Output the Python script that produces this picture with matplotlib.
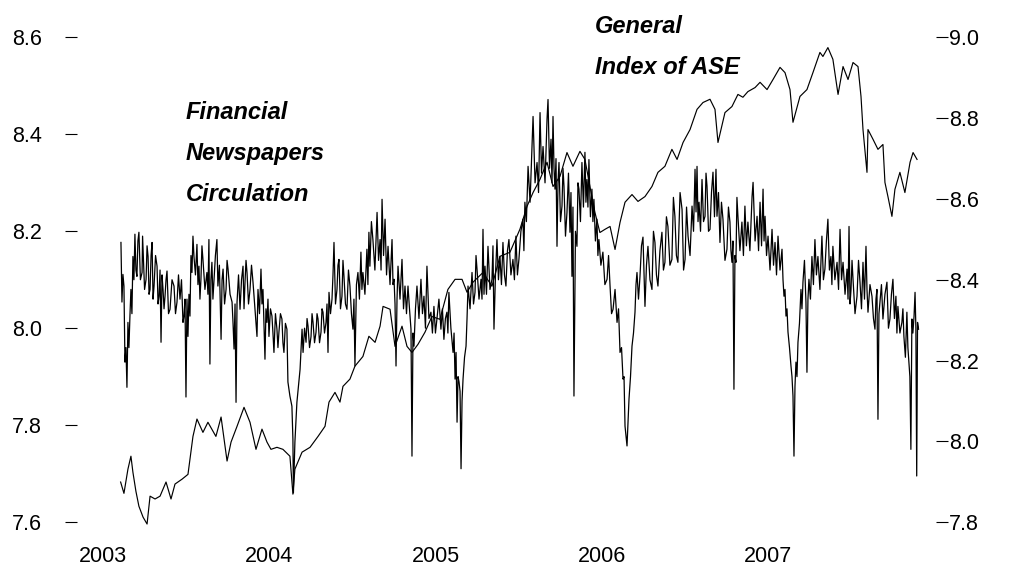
import matplotlib
matplotlib.use("Agg")
import matplotlib.pyplot as plt

# daily financial newspapers circulation (log)
circ_years = [
    2003.108, 2003.114, 2003.120, 2003.126, 2003.132, 2003.138, 2003.144, 2003.150, 2003.156, 2003.162,
    2003.168, 2003.174, 2003.180, 2003.186, 2003.192, 2003.198, 2003.204, 2003.210, 2003.216, 2003.225,
    2003.235, 2003.238, 2003.241, 2003.250, 2003.259, 2003.265, 2003.271, 2003.277, 2003.283, 2003.289,
    2003.295, 2003.301, 2003.307, 2003.316, 2003.325, 2003.331, 2003.337, 2003.343, 2003.349, 2003.355,
    2003.361, 2003.367, 2003.373, 2003.379, 2003.385, 2003.394, 2003.403, 2003.415, 2003.427, 2003.436,
    2003.445, 2003.454, 2003.463, 2003.472, 2003.481, 2003.487, 2003.493, 2003.499, 2003.505, 2003.511,
    2003.517, 2003.523, 2003.529, 2003.535, 2003.541, 2003.547, 2003.556, 2003.565, 2003.571, 2003.577,
    2003.583, 2003.589, 2003.595, 2003.601, 2003.613, 2003.625, 2003.631, 2003.637, 2003.643, 2003.649,
    2003.655, 2003.661, 2003.667, 2003.676, 2003.685, 2003.691, 2003.700, 2003.710, 2003.716, 2003.722,
    2003.731, 2003.740, 2003.746, 2003.752, 2003.764, 2003.776, 2003.782, 2003.788, 2003.794, 2003.800,
    2003.806, 2003.815, 2003.824, 2003.833, 2003.842, 2003.848, 2003.854, 2003.860, 2003.866, 2003.875,
    2003.884, 2003.893, 2003.902, 2003.914, 2003.926, 2003.932, 2003.941, 2003.950, 2003.956, 2003.962,
    2003.968, 2003.974, 2003.980, 2003.986, 2003.992, 2003.998, 2004.007, 2004.016, 2004.022, 2004.028,
    2004.037, 2004.046, 2004.052, 2004.058, 2004.067, 2004.076, 2004.082, 2004.088, 2004.097, 2004.106,
    2004.112, 2004.124, 2004.136, 2004.142, 2004.145, 2004.154, 2004.166, 2004.185, 2004.197, 2004.203,
    2004.212, 2004.221, 2004.227, 2004.233, 2004.242, 2004.251, 2004.257, 2004.263, 2004.272, 2004.281,
    2004.287, 2004.293, 2004.302, 2004.311, 2004.317, 2004.323, 2004.332, 2004.341, 2004.347, 2004.353,
    2004.359, 2004.368, 2004.377, 2004.383, 2004.389, 2004.398, 2004.407, 2004.413, 2004.419, 2004.428,
    2004.437, 2004.443, 2004.449, 2004.458, 2004.467, 2004.476, 2004.485, 2004.494, 2004.503, 2004.509,
    2004.515, 2004.524, 2004.533, 2004.542, 2004.551, 2004.557, 2004.563, 2004.575, 2004.587, 2004.593,
    2004.599, 2004.605, 2004.614, 2004.623, 2004.635, 2004.648, 2004.657, 2004.666, 2004.672, 2004.678,
    2004.687, 2004.696, 2004.705, 2004.714, 2004.726, 2004.738, 2004.744, 2004.750, 2004.756, 2004.762,
    2004.768, 2004.774, 2004.786, 2004.798, 2004.807, 2004.816, 2004.825, 2004.834, 2004.843, 2004.852,
    2004.858, 2004.864, 2004.870, 2004.879, 2004.888, 2004.900, 2004.912, 2004.921, 2004.930, 2004.939,
    2004.948, 2004.960, 2004.972, 2004.981, 2004.990, 2004.999, 2005.008, 2005.020, 2005.032, 2005.041,
    2005.050, 2005.059, 2005.068, 2005.074, 2005.080, 2005.092, 2005.105, 2005.111, 2005.117, 2005.123,
    2005.129, 2005.135, 2005.141, 2005.147, 2005.153, 2005.159, 2005.165, 2005.174, 2005.183, 2005.189,
    2005.195, 2005.207, 2005.219, 2005.228, 2005.237, 2005.243, 2005.249, 2005.261, 2005.273, 2005.279,
    2005.285, 2005.291, 2005.297, 2005.306, 2005.315, 2005.327, 2005.339, 2005.345, 2005.351, 2005.360,
    2005.369, 2005.378, 2005.387, 2005.396, 2005.405, 2005.414, 2005.423, 2005.432, 2005.441, 2005.453,
    2005.465, 2005.474, 2005.483, 2005.492, 2005.501, 2005.513, 2005.525, 2005.531, 2005.537, 2005.546,
    2005.556, 2005.568, 2005.580, 2005.586, 2005.598, 2005.610, 2005.619, 2005.628, 2005.637, 2005.646,
    2005.658, 2005.670, 2005.676, 2005.685, 2005.694, 2005.700, 2005.706, 2005.712, 2005.718, 2005.724,
    2005.730, 2005.736, 2005.742, 2005.751, 2005.760, 2005.766, 2005.772, 2005.781, 2005.790, 2005.799,
    2005.808, 2005.814, 2005.820, 2005.826, 2005.832, 2005.841, 2005.850, 2005.856, 2005.862, 2005.871,
    2005.880, 2005.889, 2005.898, 2005.904, 2005.910, 2005.916, 2005.922, 2005.931, 2005.940, 2005.946,
    2005.952, 2005.961, 2005.970, 2005.976, 2005.982, 2005.994, 2006.006, 2006.018, 2006.031, 2006.040,
    2006.049, 2006.058, 2006.067, 2006.079, 2006.091, 2006.100, 2006.109, 2006.118, 2006.127, 2006.133,
    2006.139, 2006.151, 2006.163, 2006.172, 2006.181, 2006.190, 2006.199, 2006.205, 2006.211, 2006.220,
    2006.229, 2006.238, 2006.247, 2006.253, 2006.259, 2006.268, 2006.277, 2006.289, 2006.301, 2006.310,
    2006.319, 2006.328, 2006.337, 2006.349, 2006.361, 2006.370, 2006.379, 2006.388, 2006.397, 2006.409,
    2006.421, 2006.430, 2006.439, 2006.448, 2006.457, 2006.470, 2006.482, 2006.491, 2006.500, 2006.509,
    2006.518, 2006.530, 2006.542, 2006.551, 2006.560, 2006.566, 2006.572, 2006.578, 2006.584, 2006.593,
    2006.602, 2006.611, 2006.620, 2006.626, 2006.632, 2006.641, 2006.650, 2006.659, 2006.668, 2006.677,
    2006.686, 2006.692, 2006.701, 2006.710, 2006.719, 2006.728, 2006.740, 2006.752, 2006.761, 2006.770,
    2006.776, 2006.782, 2006.788, 2006.794, 2006.800, 2006.806, 2006.812, 2006.818, 2006.830, 2006.842,
    2006.851, 2006.860, 2006.869, 2006.878, 2006.890, 2006.903, 2006.909, 2006.921, 2006.933, 2006.942,
    2006.951, 2006.960, 2006.969, 2006.975, 2006.981, 2006.990, 2006.999, 2007.011, 2007.023, 2007.032,
    2007.041, 2007.050, 2007.059, 2007.071, 2007.083, 2007.089, 2007.095, 2007.101, 2007.107, 2007.113,
    2007.119, 2007.128, 2007.137, 2007.143, 2007.149, 2007.155, 2007.161, 2007.167, 2007.173, 2007.179,
    2007.188, 2007.197, 2007.203, 2007.209, 2007.218, 2007.227, 2007.233, 2007.239, 2007.245, 2007.254,
    2007.263, 2007.272, 2007.281, 2007.290, 2007.299, 2007.311, 2007.323, 2007.332, 2007.341, 2007.350,
    2007.359, 2007.368, 2007.377, 2007.383, 2007.389, 2007.401, 2007.414, 2007.423, 2007.432, 2007.441,
    2007.450, 2007.462, 2007.474, 2007.480, 2007.486, 2007.492, 2007.498, 2007.504, 2007.510, 2007.522,
    2007.534, 2007.543, 2007.552, 2007.561, 2007.570, 2007.579, 2007.588, 2007.594, 2007.600, 2007.612,
    2007.624, 2007.633, 2007.642, 2007.648, 2007.654, 2007.660, 2007.666, 2007.672, 2007.681, 2007.690,
    2007.702, 2007.714, 2007.723, 2007.732, 2007.741, 2007.750, 2007.759, 2007.768, 2007.774, 2007.780,
    2007.792, 2007.804, 2007.810, 2007.816, 2007.825, 2007.834, 2007.840, 2007.846, 2007.852, 2007.858,
    2007.864, 2007.870, 2007.877, 2007.883, 2007.888, 2007.893, 2007.898, 2007.904,
]
circ_values = [
    8.177, 8.054, 8.111, 8.087, 7.930, 7.960, 7.878, 8.012, 7.960, 8.025,
    8.080, 8.030, 8.148, 8.100, 8.194, 8.120, 8.107, 8.180, 8.198, 8.100,
    8.115, 8.190, 8.163, 8.080, 8.101, 8.170, 8.148, 8.070, 8.080, 8.150,
    8.177, 8.060, 8.087, 8.150, 8.128, 8.050, 8.066, 8.120, 7.971, 8.110,
    8.080, 8.040, 8.066, 8.100, 8.118, 8.030, 8.039, 8.100, 8.087, 8.030,
    8.054, 8.110, 8.060, 8.100, 8.012, 8.025, 8.060, 7.858, 8.060, 7.983,
    8.070, 8.025, 8.150, 8.115, 8.190, 8.148, 8.110, 8.173, 8.090, 8.128,
    8.060, 8.101, 8.170, 8.142, 8.080, 8.115, 8.070, 8.183, 7.926, 8.100,
    8.136, 8.060, 8.095, 8.150, 8.183, 8.087, 8.130, 7.977, 8.100, 8.122,
    8.050, 8.080, 8.140, 8.122, 8.070, 8.054, 8.010, 7.957, 8.050, 7.847,
    8.054, 8.110, 8.039, 8.100, 8.128, 8.040, 8.095, 8.140, 8.115, 8.050,
    8.080, 8.130, 8.095, 8.040, 7.983, 8.080, 8.030, 8.122, 8.050, 8.080,
    8.010, 7.936, 8.040, 8.012, 8.060, 7.983, 8.040, 8.025, 7.990, 7.950,
    8.030, 7.998, 7.960, 7.992, 8.030, 8.019, 7.970, 7.950, 8.010, 7.998,
    7.889, 7.860, 7.839, 7.771, 7.660, 7.765, 7.847, 7.915, 7.998, 7.950,
    8.000, 7.971, 8.020, 8.004, 7.960, 7.983, 8.030, 8.012, 7.970, 7.992,
    8.030, 8.019, 7.970, 7.992, 8.040, 8.033, 7.990, 8.012, 8.050, 7.950,
    8.074, 8.030, 8.060, 8.110, 8.177, 8.050, 8.080, 8.130, 8.142, 8.040,
    8.066, 8.140, 8.107, 8.050, 8.039, 8.120, 8.087, 8.030, 7.998, 8.060,
    7.922, 8.090, 8.115, 8.060, 8.157, 8.080, 8.115, 8.070, 8.163, 8.090,
    8.198, 8.128, 8.220, 8.183, 8.120, 8.239, 8.140, 8.183, 8.120, 8.266,
    8.150, 8.225, 8.110, 8.169, 8.090, 8.183, 8.090, 8.101, 8.050, 7.922,
    8.060, 8.128, 8.060, 8.142, 8.040, 8.087, 8.030, 8.087, 8.040, 7.998,
    7.736, 7.990, 7.963, 8.040, 8.087, 8.020, 8.101, 8.030, 8.066, 8.000,
    8.128, 8.020, 8.033, 7.990, 8.045, 7.990, 8.019, 8.060, 7.998, 8.040,
    7.977, 8.020, 8.033, 7.990, 8.074, 8.000, 7.950, 7.990, 7.895, 7.950,
    7.806, 7.900, 7.889, 7.870, 7.710, 7.850, 7.895, 7.940, 7.963, 8.020,
    8.087, 8.040, 8.115, 8.050, 8.074, 8.150, 8.122, 8.060, 8.101, 8.060,
    8.204, 8.070, 8.128, 8.070, 8.169, 8.080, 8.101, 8.170, 7.998, 8.110,
    8.183, 8.100, 8.148, 8.090, 8.177, 8.110, 8.087, 8.160, 8.183, 8.110,
    8.142, 8.100, 8.190, 8.110, 8.142, 8.200, 8.225, 8.160, 8.260, 8.220,
    8.334, 8.260, 8.375, 8.437, 8.300, 8.342, 8.280, 8.445, 8.320, 8.375,
    8.300, 8.431, 8.472, 8.330, 8.390, 8.300, 8.437, 8.330, 8.287, 8.350,
    8.169, 8.300, 8.342, 8.220, 8.252, 8.330, 8.293, 8.190, 8.239, 8.320,
    8.198, 8.280, 8.107, 8.250, 7.860, 8.200, 8.169, 8.300, 8.287, 8.220,
    8.342, 8.250, 8.363, 8.260, 8.307, 8.250, 8.348, 8.230, 8.287, 8.220,
    8.266, 8.180, 8.225, 8.150, 8.183, 8.130, 8.157, 8.090, 8.101, 8.150,
    8.087, 8.030, 8.039, 8.080, 8.012, 8.040, 7.950, 7.960, 7.895, 7.900,
    7.798, 7.757, 7.854, 7.900, 7.963, 7.990, 8.033, 8.090, 8.115, 8.060,
    8.107, 8.170, 8.188, 8.120, 8.045, 8.130, 8.169, 8.100, 8.080, 8.200,
    8.177, 8.110, 8.087, 8.160, 8.198, 8.120, 8.136, 8.230, 8.210, 8.130,
    8.142, 8.270, 8.231, 8.150, 8.136, 8.280, 8.245, 8.120, 8.142, 8.250,
    8.190, 8.150, 8.252, 8.200, 8.328, 8.240, 8.334, 8.220, 8.260, 8.200,
    8.307, 8.220, 8.231, 8.320, 8.293, 8.200, 8.204, 8.280, 8.322, 8.230,
    8.328, 8.231, 8.280, 8.177, 8.260, 8.225, 8.140, 8.163, 8.250, 8.219,
    8.160, 8.136, 8.180, 7.874, 8.150, 8.136, 8.270, 8.231, 8.160, 8.219,
    8.150, 8.252, 8.170, 8.219, 8.160, 8.272, 8.301, 8.180, 8.231, 8.160,
    8.260, 8.170, 8.287, 8.180, 8.231, 8.150, 8.190, 8.120, 8.204, 8.130,
    8.177, 8.110, 8.190, 8.120, 8.163, 8.100, 8.066, 8.080, 8.025, 8.040,
    7.992, 7.960, 7.922, 7.900, 7.860, 7.736, 7.880, 7.930, 7.900, 7.971,
    8.010, 8.080, 8.040, 8.095, 8.140, 8.054, 7.909, 8.060, 8.101, 8.060,
    8.148, 8.090, 8.183, 8.110, 8.148, 8.080, 8.190, 8.100, 8.122, 8.180,
    8.225, 8.120, 8.148, 8.090, 8.169, 8.100, 8.136, 8.080, 8.204, 8.100,
    8.136, 8.070, 8.122, 8.060, 8.210, 8.050, 8.080, 8.140, 8.101, 8.030,
    8.066, 8.140, 8.095, 8.040, 8.136, 8.060, 8.169, 8.080, 8.033, 8.090,
    8.066, 8.020, 7.998, 8.060, 8.080, 7.812, 8.030, 8.054, 8.090, 8.019,
    8.070, 8.095, 8.000, 8.019, 8.070, 8.101, 8.020, 8.066, 7.990, 8.045,
    7.990, 8.012, 8.040, 7.983, 7.940, 8.033, 7.960, 7.930, 7.900, 7.750,
    8.019, 7.990, 8.025, 8.074, 8.000, 7.695, 8.012, 7.998,
]

# general index of ASE (log), right axis
ase_years = [
    2003.106, 2003.126, 2003.150, 2003.168, 2003.180, 2003.198, 2003.216, 2003.241, 2003.265, 2003.283,
    2003.313, 2003.343, 2003.379, 2003.409, 2003.433, 2003.475, 2003.511, 2003.541, 2003.565, 2003.601,
    2003.631, 2003.679, 2003.710, 2003.746, 2003.770, 2003.806, 2003.848, 2003.884, 2003.920, 2003.956,
    2003.986, 2004.010, 2004.046, 2004.082, 2004.124, 2004.142, 2004.154, 2004.197, 2004.245, 2004.293,
    2004.335, 2004.359, 2004.395, 2004.425, 2004.443, 2004.485, 2004.515, 2004.563, 2004.599, 2004.636,
    2004.666, 2004.684, 2004.726, 2004.756, 2004.798, 2004.828, 2004.858, 2004.894, 2004.936, 2004.978,
    2005.026, 2005.074, 2005.117, 2005.159, 2005.189, 2005.225, 2005.285, 2005.339, 2005.387, 2005.447,
    2005.507, 2005.550, 2005.586, 2005.628, 2005.670, 2005.706, 2005.748, 2005.790, 2005.826, 2005.868,
    2005.898, 2005.928, 2005.958, 2005.988, 2006.019, 2006.049, 2006.079, 2006.109, 2006.139, 2006.181,
    2006.217, 2006.259, 2006.301, 2006.337, 2006.379, 2006.421, 2006.452, 2006.488, 2006.530, 2006.572,
    2006.608, 2006.650, 2006.680, 2006.698, 2006.740, 2006.782, 2006.818, 2006.848, 2006.878, 2006.921,
    2006.951, 2006.993, 2007.029, 2007.071, 2007.101, 2007.131, 2007.149, 2007.191, 2007.233, 2007.269,
    2007.311, 2007.329, 2007.359, 2007.389, 2007.420, 2007.450, 2007.480, 2007.510, 2007.540, 2007.558,
    2007.570, 2007.594, 2007.600, 2007.630, 2007.660, 2007.690, 2007.702, 2007.720, 2007.744, 2007.762,
    2007.792, 2007.822, 2007.853, 2007.871, 2007.895,
]
ase_values = [
    7.899, 7.871, 7.931, 7.963, 7.923, 7.876, 7.839, 7.812, 7.795, 7.864,
    7.857, 7.864, 7.899, 7.857, 7.894, 7.906, 7.918, 8.012, 8.055, 8.022,
    8.047, 8.012, 8.060, 7.951, 7.998, 8.037, 8.084, 8.047, 7.980, 8.030,
    7.998, 7.980, 7.985, 7.980, 7.963, 7.869, 7.931, 7.973, 7.985, 8.012,
    8.037, 8.097, 8.121, 8.097, 8.136, 8.154, 8.186, 8.210, 8.260, 8.245,
    8.285, 8.334, 8.327, 8.235, 8.285, 8.235, 8.220, 8.240, 8.270, 8.309,
    8.302, 8.376, 8.401, 8.401, 8.369, 8.394, 8.418, 8.384, 8.458, 8.468,
    8.525, 8.582, 8.616, 8.649, 8.691, 8.631, 8.656, 8.715, 8.681, 8.718,
    8.698, 8.631, 8.567, 8.517, 8.525, 8.532, 8.475, 8.542, 8.592, 8.611,
    8.594, 8.606, 8.631, 8.666, 8.681, 8.723, 8.698, 8.740, 8.772, 8.822,
    8.839, 8.847, 8.822, 8.740, 8.814, 8.829, 8.859, 8.852, 8.866, 8.876,
    8.889, 8.871, 8.896, 8.926, 8.913, 8.871, 8.790, 8.854, 8.871, 8.913,
    8.963, 8.953, 8.975, 8.946, 8.859, 8.928, 8.896, 8.938, 8.928, 8.854,
    8.772, 8.666, 8.772, 8.748, 8.723, 8.735, 8.641, 8.606, 8.557, 8.624,
    8.666, 8.616, 8.691, 8.715, 8.698,
]
assert len(circ_years) == len(circ_values), (len(circ_years), len(circ_values))

year_ticks = [2003, 2004, 2005, 2006, 2007]
circ_ticks = [7.6, 7.8, 8.0, 8.2, 8.4, 8.6]
ase_ticks = [7.8, 8.0, 8.2, 8.4, 8.6, 8.8, 9.0]

plt.rcParams['font.family'] = ['Liberation Sans', 'DejaVu Sans']

W, H = 1013, 565
fig = plt.figure(figsize=(W / 100, H / 100), dpi=100)
ax = fig.add_axes([77 / W, 1 - 531.7 / H, (936 - 77) / W, 503.9 / H])

ax.plot(circ_years, circ_values, color='black', lw=0.9)
ax.set_xlim(2002.8437, 2008.009)
ax.set_ylim(7.58, 8.62)
ax.set_yticks(circ_ticks, labels=[f"{t:.1f}" for t in circ_ticks])
ax.set_xticks(year_ticks, labels=[str(y) for y in year_ticks])
ax.tick_params(axis='y', direction='out', length=8.6, width=0.8, pad=16.5, labelsize=15.5)
ax.tick_params(axis='x', length=0, pad=10, labelsize=15.5)
for s in ax.spines.values():
    s.set_visible(False)

ax2 = ax.twinx()
ax2.plot(ase_years, ase_values, color='black', lw=0.85)
ax2.set_ylim(7.776, 9.024)
ax2.set_yticks(ase_ticks, labels=[f"{t:.1f}" for t in ase_ticks])
ax2.tick_params(axis='y', direction='out', length=8.6, width=0.8, pad=1, labelsize=15.5)
for s in ax2.spines.values():
    s.set_visible(False)

lab = dict(fontsize=17, fontweight='bold', style='italic', va='baseline', ha='left')
fig.text(186 / W, 1 - 119 / H, 'Financial', **lab)
fig.text(186 / W, 1 - 160 / H, 'Newspapers', **lab)
fig.text(186 / W, 1 - 201 / H, 'Circulation', **lab)
fig.text(595 / W, 1 - 33 / H, 'General', **lab)
fig.text(595 / W, 1 - 74 / H, 'Index of ASE', **lab)

fig.savefig('out.png', dpi=100)
